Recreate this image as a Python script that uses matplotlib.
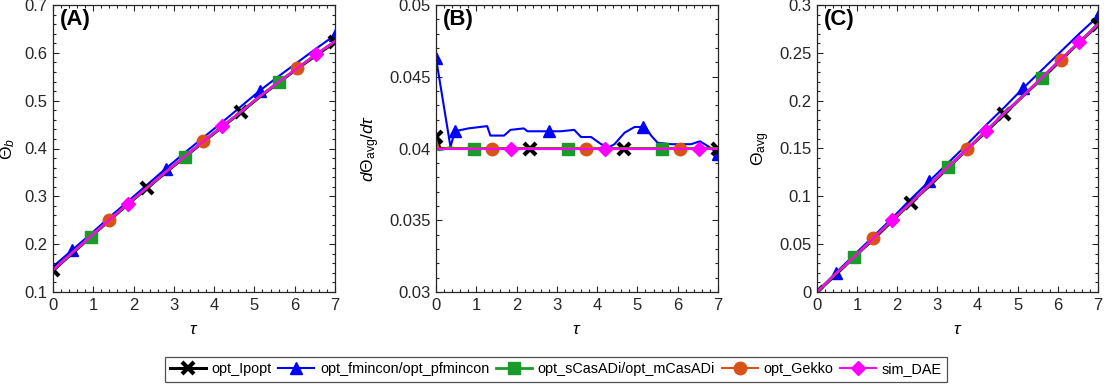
import numpy as np
import matplotlib
matplotlib.use("Agg")
import matplotlib.pyplot as plt
from matplotlib.ticker import MultipleLocator

plt.rcParams['font.family'] = ['Liberation Sans', 'DejaVu Sans']
plt.rcParams['mathtext.fontset'] = 'custom'
plt.rcParams['mathtext.rm'] = 'Liberation Sans'
plt.rcParams['mathtext.it'] = 'Liberation Sans:italic'
plt.rcParams['mathtext.bf'] = 'Liberation Sans:bold'

# ---------------- data ----------------
series_names = ["opt_Ipopt", "opt_fmincon/opt_pfmincon", "opt_sCasADi/opt_mCasADi",
                "opt_Gekko", "sim_DAE"]

# common time grid for panels A and C
tau = [0.0, 0.467, 0.933, 1.4, 1.867, 2.333, 2.8, 3.267, 3.733, 4.2,
       4.667, 5.133, 5.6, 6.067, 6.533, 7.0]

# Panel A: Theta_b
thb_ipopt = [0.145, 0.180, 0.215, 0.250, 0.284, 0.317, 0.350, 0.382, 0.414, 0.445,
             0.476, 0.508, 0.538, 0.567, 0.595, 0.622]
thb_fmincon = [0.153, 0.187, 0.221, 0.256, 0.290, 0.324, 0.358, 0.391, 0.423, 0.455,
               0.488, 0.521, 0.551, 0.580, 0.609, 0.637]
thb_casadi = [0.146, 0.181, 0.216, 0.251, 0.285, 0.318, 0.351, 0.383, 0.415, 0.446,
              0.477, 0.509, 0.539, 0.568, 0.597, 0.624]
thb_gekko = [0.146, 0.181, 0.216, 0.251, 0.285, 0.318, 0.351, 0.383, 0.415, 0.446,
             0.477, 0.509, 0.539, 0.568, 0.597, 0.624]
thb_dae = [0.146, 0.181, 0.216, 0.251, 0.285, 0.318, 0.351, 0.383, 0.415, 0.446,
           0.477, 0.509, 0.539, 0.568, 0.597, 0.624]

# Panel C: Theta_avg
tha_ipopt = [0.0, 0.018, 0.037, 0.055, 0.074, 0.093, 0.111, 0.130, 0.149, 0.167,
             0.186, 0.205, 0.223, 0.242, 0.261, 0.279]
tha_fmincon = [0.0, 0.020, 0.039, 0.058, 0.077, 0.097, 0.116, 0.135, 0.154, 0.174,
               0.193, 0.213, 0.232, 0.251, 0.270, 0.288]
tha_casadi = [0.0, 0.019, 0.037, 0.056, 0.075, 0.093, 0.112, 0.131, 0.149, 0.168,
              0.187, 0.205, 0.224, 0.243, 0.261, 0.280]
tha_gekko = [0.0, 0.019, 0.037, 0.056, 0.075, 0.093, 0.112, 0.131, 0.149, 0.168,
             0.187, 0.205, 0.224, 0.243, 0.261, 0.280]
tha_dae = [0.0, 0.019, 0.037, 0.056, 0.075, 0.093, 0.112, 0.131, 0.149, 0.168,
           0.187, 0.205, 0.224, 0.243, 0.261, 0.280]

# Panel B: dTheta_avg/dtau (each series on its own time points)
tauB_ipopt = [0.0, 0.1, 2.333, 4.667, 7.0]
dB_ipopt = [0.0408, 0.0400, 0.0400, 0.0400, 0.0400]
tauB_fmincon = [0.0, 0.36, 0.467, 0.8, 1.27, 1.35, 1.69, 1.85, 2.18, 2.27,
                2.8, 3.1, 3.43, 3.6, 3.85, 4.1, 4.3, 4.43, 4.68, 4.93,
                5.133, 5.2, 5.34, 5.5, 5.84, 6.33, 6.55, 6.67, 6.84, 7.0]
dB_fmincon = [0.0463, 0.0401, 0.0412, 0.0414, 0.04156, 0.0409, 0.0409, 0.0413, 0.0414, 0.0412,
              0.0412, 0.0412, 0.0413, 0.0408, 0.0408, 0.0403, 0.0401, 0.0403, 0.0411, 0.0415,
              0.0415, 0.0415, 0.0409, 0.0404, 0.0403, 0.0403, 0.0405, 0.0403, 0.0400, 0.0396]
tauB_casadi = [0.0, 0.08, 0.35, 0.5, 0.933, 3.267, 5.6, 7.0]
dB_casadi = [0.0400, 0.0399, 0.04006, 0.0400, 0.0400, 0.0400, 0.0400, 0.0400]
tauB_gekko = [0.0, 0.07, 1.4, 3.733, 6.067, 7.0]
dB_gekko = [0.0406, 0.0400, 0.0400, 0.0400, 0.0400, 0.0400]
tauB_dae = [0.0, 1.867, 4.2, 6.533, 7.0]
dB_dae = [0.0400, 0.0400, 0.0400, 0.0400, 0.0400]

# ---------------- styles ----------------
colors = ['black', '#0000FF', '#1A9A2A', '#D95319', '#FF00FF']
markers = ['x', '^', 's', 'o', 'D']
msizes = [8, 8.5, 8, 9, 7.5]
lws = [2.2, 1.5, 2.0, 1.5, 1.5]
mews = [3.0, 1, 1, 1, 1]

W, H = 1107, 385
fig = plt.figure(figsize=(W / 100, H / 100), dpi=100)

def frac(x0, y0, x1, y1):
    return [x0 / W, 1 - y1 / H, (x1 - x0) / W, (y1 - y0) / H]

axA = fig.add_axes(frac(53, 5, 335, 292))
axB = fig.add_axes(frac(436, 5, 718, 292))
axC = fig.add_axes(frac(817, 5, 1098, 292))

def style(ax, ylim, ymaj, ymin, ylabel, tag):
    ax.set_xlim(0, 7)
    ax.set_ylim(*ylim)
    ax.xaxis.set_major_locator(MultipleLocator(1))
    ax.xaxis.set_minor_locator(MultipleLocator(0.2))
    ax.yaxis.set_major_locator(MultipleLocator(ymaj))
    ax.yaxis.set_minor_locator(MultipleLocator(ymin))
    ax.tick_params(which='both', direction='in', top=True, right=True,
                   labelsize=12, colors='#262626', width=0.8)
    ax.tick_params(which='major', length=4.5, pad=4)
    ax.tick_params(which='minor', length=2.5)
    for s in ax.spines.values():
        s.set_color('#262626')
        s.set_linewidth(0.9)
    ax.set_xlabel(r'$\tau$', fontsize=12.5, labelpad=7)
    ax.set_ylabel(ylabel, fontsize=12.5, labelpad=5)
    ax.text(0.025, 0.985, tag, transform=ax.transAxes, ha='left', va='top',
            fontsize=16, fontweight='bold')
    ax.yaxis.set_major_formatter(matplotlib.ticker.FuncFormatter(lambda v, p: f'{v:g}'))

def draw(ax, xs, ys, i, mev):
    return ax.plot(xs, ys, color=colors[i], lw=lws[i], marker=markers[i],
                   ms=msizes[i], mew=mews[i], mec=colors[i], mfc=colors[i],
                   markevery=mev, label=series_names[i])[0]

every = [[0, 5, 10, 15], [1, 6, 11, 15], [2, 7, 12], [3, 8, 13], [4, 9, 14]]

A_data = [thb_ipopt, thb_fmincon, thb_casadi, thb_gekko, thb_dae]
C_data = [tha_ipopt, tha_fmincon, tha_casadi, tha_gekko, tha_dae]
order = [1, 0, 2, 3, 4]
handles = {}
for i in order:
    handles[i] = draw(axA, tau, A_data[i], i, every[i])
    draw(axC, tau, C_data[i], i, every[i])

B_data = [(tauB_ipopt, dB_ipopt, [0, 2, 3, 4]),
          (tauB_fmincon, dB_fmincon, [0, 2, 10, 20, 29]),
          (tauB_casadi, dB_casadi, [4, 5, 6]),
          (tauB_gekko, dB_gekko, [2, 3, 4]),
          (tauB_dae, dB_dae, [1, 2, 3])]
for i in order:
    xs, ys, mev = B_data[i]
    draw(axB, xs, ys, i, mev)

style(axA, (0.1, 0.7), 0.1, 0.02, r'$\Theta_b$', '(A)')
style(axB, (0.03, 0.05), 0.005, 0.001, r'$d\Theta_{\rm avg}/d\tau$', '(B)')
style(axC, (0.0, 0.3), 0.05, 0.01, r'$\Theta_{\rm avg}$', '(C)')

leg = fig.legend([handles[i] for i in range(5)], series_names, loc='center',
                 bbox_to_anchor=(0.502, 1 - 369.5 / H), ncol=5, fontsize=10.4,
                 frameon=True, fancybox=False, edgecolor='#262626',
                 handlelength=2.5, columnspacing=0.45, handletextpad=0.4,
                 borderpad=0.35, borderaxespad=0.2, numpoints=1)
leg.get_frame().set_linewidth(0.9)

fig.savefig('out.png', dpi=100)
